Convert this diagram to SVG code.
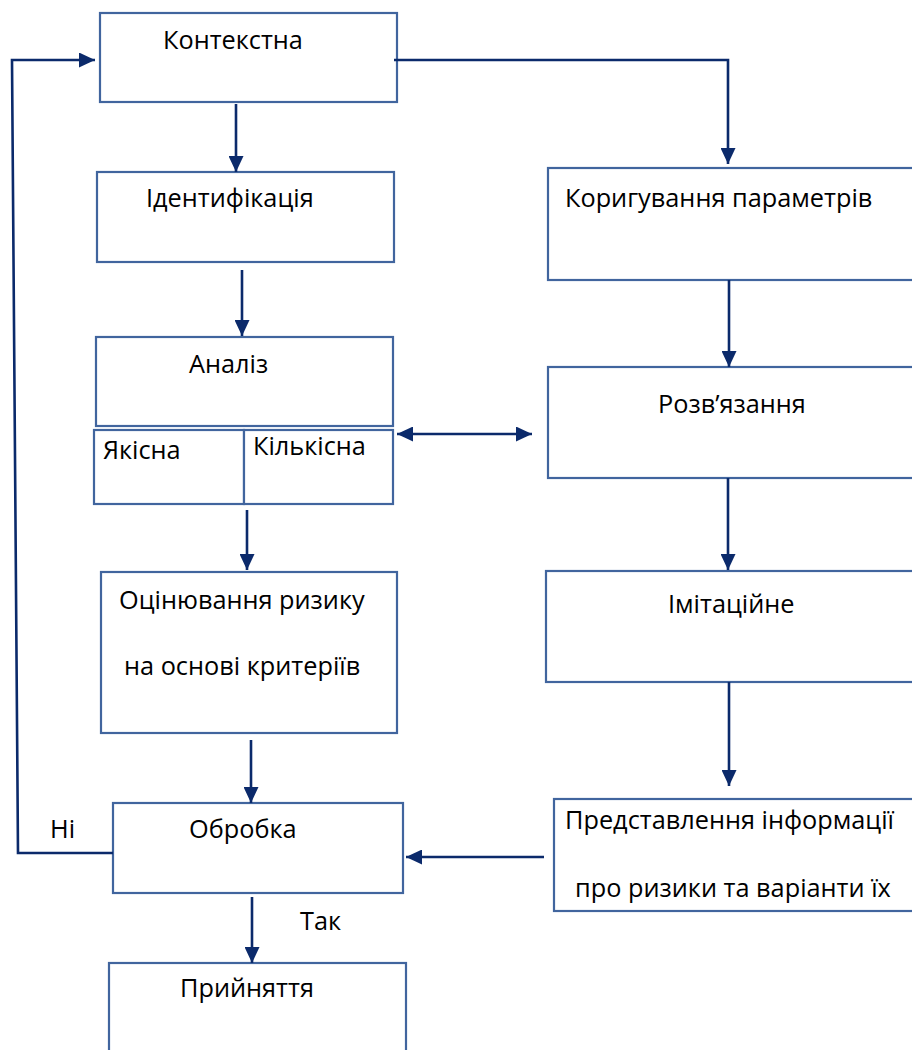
<svg xmlns="http://www.w3.org/2000/svg" width="912" height="1050" viewBox="0 0 912 1050">
<style>
.box{fill:#fff;stroke:#41659e;stroke-width:2.2}
.t{font-family:"Open Sans","Noto Sans","Liberation Sans",sans-serif;font-size:25.3px;fill:#000}
.c{fill:none;stroke:#0b2a6b;stroke-width:2.6}
</style>
<defs>
<marker id="ah" viewBox="0 0 16 15" refX="16" refY="7.5" markerWidth="16" markerHeight="15" markerUnits="userSpaceOnUse" orient="auto-start-reverse">
<path d="M0,0 L16,7.5 L0,15 z" fill="#0b2a6b"/>
</marker>
</defs>
<rect width="912" height="1050" fill="#fff"/>
<g id="n-kontekstna"><rect class="box" x="100" y="13" width="297" height="89"/><text class="t" x="163" y="49">Контекстна</text></g>
<g id="n-identyfikatsiia"><rect class="box" x="97" y="172" width="297" height="90"/><text class="t" x="146" y="207">Ідентифікація</text></g>
<g id="n-analiz"><rect class="box" x="96" y="337" width="297" height="89"/><text class="t" x="189" y="373">Аналіз</text></g>
<g id="n-yakisna"><rect class="box" x="94" y="430" width="150" height="74"/><text class="t" x="103" y="459">Якісна</text></g>
<g id="n-kilkisna"><rect class="box" x="244" y="430" width="149" height="74"/><text class="t" x="253" y="455">Кількісна</text></g>
<g id="n-otsiniuvannia"><rect class="box" x="101" y="572" width="296" height="161"/><text class="t" x="119" y="609">Оцінювання ризику</text><text class="t" x="124" y="675">на основі критеріїв</text></g>
<g id="n-obrobka"><rect class="box" x="113" y="803" width="290" height="90"/><text class="t" x="189" y="838">Обробка</text></g>
<g id="n-pryiniattia"><rect class="box" x="109" y="963" width="297" height="100"/><text class="t" x="180" y="997">Прийняття</text></g>
<g id="n-koryhuvannia"><rect class="box" x="548" y="168" width="370" height="112"/><text class="t" x="565" y="207">Коригування параметрів</text></g>
<g id="n-rozviazannia"><rect class="box" x="548" y="367" width="370" height="111"/><text class="t" x="658" y="413">Розв’язання</text></g>
<g id="n-imitatsiine"><rect class="box" x="546" y="571" width="372" height="111"/><text class="t" x="668" y="613">Імітаційне</text></g>
<g id="n-predstavlennia"><rect class="box" x="554" y="799" width="364" height="112"/><text class="t" x="565" y="829">Представлення інформації</text><text class="t" x="575" y="897">про ризики та варіанти їх</text></g>
<g id="connectors">
<line class="c" x1="236" y1="104" x2="236" y2="172" marker-end="url(#ah)"/>
<line class="c" x1="242" y1="270" x2="242" y2="336" marker-end="url(#ah)"/>
<line class="c" x1="247" y1="510" x2="247" y2="570" marker-end="url(#ah)"/>
<line class="c" x1="251" y1="740" x2="251" y2="803" marker-end="url(#ah)"/>
<line class="c" x1="252" y1="897" x2="252" y2="963" marker-end="url(#ah)"/>
<path class="c" d="M394,60 H728 V164" marker-end="url(#ah)"/>
<line class="c" x1="729" y1="280" x2="729" y2="367" marker-end="url(#ah)"/>
<line class="c" x1="728" y1="478" x2="728" y2="570" marker-end="url(#ah)"/>
<line class="c" x1="729" y1="682" x2="729" y2="786" marker-end="url(#ah)"/>
<line class="c" x1="544" y1="857" x2="406" y2="857" marker-end="url(#ah)"/>
<line class="c" x1="397" y1="434" x2="532" y2="434" marker-start="url(#ah)" marker-end="url(#ah)"/>
<path class="c" d="M113,853 H18 L12,60 H95" marker-end="url(#ah)"/>
</g>
<text class="t" x="50" y="838">Ні</text>
<text class="t" x="300" y="930">Так</text>
</svg>
